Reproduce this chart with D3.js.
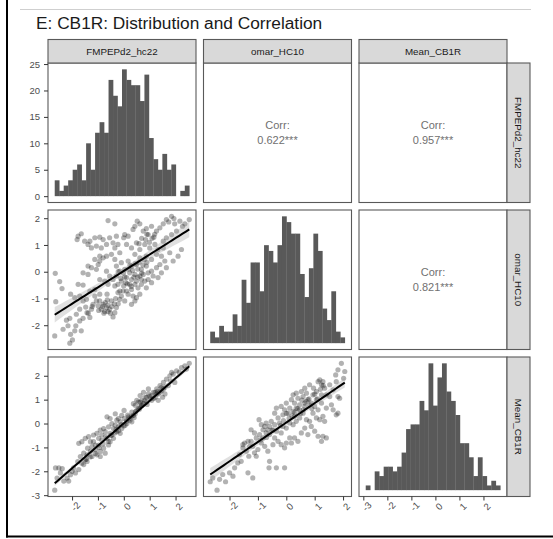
<!DOCTYPE html>
<html>
<head>
<meta charset="utf-8">
<script src="https://cdn.jsdelivr.net/npm/d3@7"></script>
<style>
body { margin: 0; background: #fff; }
svg text { font-family: "Liberation Sans", Arial, sans-serif; }
</style>
</head>
<body>
<svg id="chart" width="553" height="539"></svg>
<script>
var chartTitle = 'E: CB1R: Distribution and Correlation';
var varNames = ['FMPEPd2_hc22', 'omar_HC10', 'Mean_CB1R'];

// histogram counts (30 bins) and the extent covered by the bars
var histF = [3,1,2,3,5,6,3,10,5,12,14,12,22,19,17,24,22,21,21,18,23,11,7,5,8,5,6,0,1,2];
var histO = [2,1,3,2,2,5,3,11,7,14,14,9,17,16,14,17,22,21,19,19,12,8,13,19,16,6,4,9,2,1];
var histM = [1,0,4,3,5,5,4,5,8,13,14,14,19,17,27,18,24,27,21,19,16,10,10,7,3,7,3,1,2,1];
var histRange = [[-2.68, 2.52], [-2.69, 2.06], [-2.90, 2.70]];

// correlations, upper panels [row, col, label]
var corrCells = [[0, 1, '0.622***'], [0, 2, '0.957***'], [1, 2, '0.821***']];

// fitted lm lines [intercept, slope]
var fitFO = [0.02, 0.617];
var fitFM = [0.01, 0.942];
var fitOM = [0.02, 0.806];

var countTicks = [0, 5, 10, 15, 20, 25];
var zTicks = [-2, -1, 0, 1, 2];
var meanTicks = [-3, -2, -1, 0, 1, 2];

// FMPEPd2_hc22 (x) vs omar_HC10 (y)
var ptsFO = [
[-2.64,-2.40],[-2.62,-0.06],[-2.45,-0.37],[-2.36,-0.63],[-2.60,-1.12],[-1.74,-0.47],[-1.55,-0.50],[-2.03,-0.84],
[-2.32,-2.15],[-2.19,-1.81],[-2.13,-2.02],[-2.06,-1.74],[-2.03,-2.34],[-2.06,-2.67],[-1.96,-2.55],[-1.87,-2.21],
[-1.83,-2.02],[-1.68,-1.84],[-1.62,-2.21],[-1.81,-1.59],[-1.68,-1.40],[-1.55,-1.74],[-1.40,-1.53],[-1.45,-1.32],
[-1.29,-1.71],[-1.23,-1.40],[-1.17,-1.22],[-1.10,-0.91],[-1.04,-1.09],[-0.97,-1.28],[-0.91,-1.09],[-0.85,-1.40],
[-0.78,-1.22],[-0.72,-1.49],[-0.65,-1.34],[-0.59,-1.49],[-0.53,-1.40],[-0.40,-1.69],[-0.33,-1.53],[-0.27,-1.34],
[-0.46,-1.09],[-0.63,-0.84],[-0.91,-0.84],[-1.10,-0.66],[-1.29,-0.72],[-1.42,-1.03],[-1.55,-1.09],[-1.68,-0.91],
[-1.87,-0.97],[-1.55,-0.04],[-1.36,0.21],[-1.23,0.15],[-1.36,-0.10],[-1.04,0.09],[-0.91,0.40],[-0.97,0.27],
[-0.78,0.52],[-0.65,0.02],[-0.53,-0.16],[-0.72,-0.35],[-0.91,-0.29],[-0.59,-0.47],[-0.40,-0.29],[-0.27,-0.16],
[-0.33,-0.53],[-0.21,-0.47],[-0.14,-0.72],[-0.08,-0.35],[0.01,-0.53],[0.12,-0.72],[0.09,-0.41],[0.18,-0.84],
[0.31,-0.66],[0.37,-0.91],[0.50,-0.97],[0.63,-0.84],[0.44,-0.47],[0.56,-0.60],[0.69,-0.47],[0.82,-0.35],
[0.95,-0.29],[1.08,-0.41],[0.88,-0.60],[-1.74,1.33],[-1.62,1.42],[-1.78,1.20],[-1.49,1.14],[-1.36,1.02],
[-1.23,0.89],[-1.29,1.14],[-1.10,1.27],[-1.04,0.96],[-0.91,1.29],[-0.78,1.20],[-0.65,1.02],[-0.85,0.89],
[-0.53,1.27],[-0.40,1.08],[-0.33,0.89],[-0.21,1.02],[-0.27,1.33],[-0.14,0.71],[-0.46,0.65],[-0.65,0.58],
[-0.33,0.46],[-0.91,0.58],[-1.10,0.46],[-0.59,1.91],[-0.33,1.79],[0.05,1.39],[0.01,1.27],[0.18,1.33],
[0.37,1.58],[0.44,1.70],[0.53,1.89],[0.63,1.79],[0.76,1.52],[0.88,1.61],[0.95,1.39],[1.08,1.70],
[1.17,1.29],[1.27,1.52],[1.40,1.64],[1.53,1.79],[1.65,1.95],[1.74,1.86],[1.85,2.07],[1.94,1.99],
[1.97,1.79],[2.17,1.89],[2.27,1.70],[2.36,1.79],[2.53,1.95],[2.04,1.52],[1.85,1.39],[1.65,1.27],
[1.53,1.14],[0.12,1.02],[0.31,0.89],[0.50,1.08],[0.63,0.83],[0.82,1.02],[1.01,0.89],[1.21,1.02],
[1.33,0.83],[1.53,0.89],[0.44,0.65],[0.63,0.52],[0.88,0.58],[1.08,0.46],[1.27,0.65],[1.46,0.58],
[1.59,0.40],[1.78,0.71],[0.18,0.40],[0.31,0.21],[0.50,0.27],[0.69,0.09],[0.88,0.21],[1.08,0.02],
[1.27,0.15],[-0.08,0.34],[0.05,0.09],[0.24,-0.04],[0.44,-0.10],[0.63,-0.16],[-0.14,0.02],[0.12,-0.22],
[-0.27,0.21],[1.14,-0.16],[1.33,-0.22],[1.46,-0.04],[1.40,0.27],[1.65,0.15],[1.91,0.40],[2.10,0.58],
[2.23,0.83],[0.76,-0.10],[0.95,-0.04],[0.31,-0.29],[0.50,-0.35],[0.69,-0.29],[-0.21,-0.78],[-0.08,-0.91],
[-0.01,-0.72],[0.24,-0.47],[-0.14,-1.03],[0.05,-1.09],[0.31,-1.22],[0.44,-1.09],
[-0.80,-1.30],[-0.70,-1.15],[-0.60,-1.25],[-0.50,-1.55],[-0.45,-1.30],[-0.35,-1.20],[-0.75,-1.55],[-0.62,-1.05],
[-0.30,-1.00],[-0.20,-1.20],[0.20,0.10],[0.35,0.05],[0.45,0.30],[0.55,0.10],[0.60,0.35],[0.75,0.25],
[0.80,0.45],[0.70,-0.05],[0.40,-0.20],[0.25,0.25],[0.55,-0.20],[0.90,0.35],[0.15,-0.45],[0.30,-0.55],
[0.70,1.25],[0.85,1.20],[1.00,1.10],[1.10,1.25],[0.90,1.40],[1.20,1.40],[0.60,1.05],[-0.10,-0.25],
[0.05,-0.20],[-0.20,0.00],[0.00,-0.05],[-1.20,-1.30],[-1.35,-1.55],[-0.95,-1.45]
];

// FMPEPd2_hc22 (x) vs Mean_CB1R (y)
var ptsFM = [
[-2.67,-2.79],[-2.64,-1.86],[-2.51,-1.86],[-2.38,-1.89],[-2.58,-2.28],[-2.45,-2.07],[-2.32,-2.41],[-2.19,-2.28],
[-2.13,-2.41],[-2.06,-2.14],[-2.00,-2.00],[-1.94,-1.86],[-1.87,-2.07],[-1.74,-1.93],[-1.78,-1.59],[-1.62,-1.66],
[-1.68,-1.38],[-1.49,-1.52],[-1.55,-1.24],[-1.40,-1.03],[-1.74,-0.83],[-1.62,-0.76],[-1.49,-0.62],[-1.36,-0.55],
[-1.29,-0.76],[-1.17,-0.48],[-1.23,-0.97],[-1.10,-1.10],[-1.04,-1.31],[-0.97,-0.90],[-0.91,-1.17],[-0.78,-1.03],
[-0.85,-0.69],[-1.04,-0.41],[-0.91,-0.28],[-0.72,-0.34],[-0.65,-0.62],[-0.59,-0.90],[-0.53,-0.76],[-0.46,-0.48],
[-0.40,-0.21],[-0.65,0.28],[-0.53,0.21],[-0.33,0.41],[-0.27,0.14],[-0.21,-0.14],[-0.14,0.07],[-0.08,-0.21],
[0.01,0.21],[0.01,0.55],[0.12,0.00],[0.18,0.28],[0.24,0.14],[0.31,0.48],[0.37,0.34],[0.44,0.76],
[0.50,0.55],[0.56,0.90],[0.63,0.69],[0.69,0.97],[0.76,0.83],[0.82,1.10],[0.88,0.90],[0.95,1.24],
[1.01,1.03],[1.08,1.17],[1.14,1.31],[1.21,1.10],[1.27,1.45],[1.33,1.24],[1.40,1.59],[1.46,1.38],
[1.53,1.72],[1.59,1.52],[1.65,1.86],[1.78,2.00],[1.85,2.14],[1.91,2.07],[2.04,2.21],[2.23,2.34],
[2.36,2.41],[2.53,2.52],[2.42,2.28],[2.14,2.14],[-0.21,0.21],[-0.08,0.34],[0.05,-0.07],[-0.33,-0.07],
[-0.46,0.00],[-0.59,-0.14],[-0.78,-0.21],[0.31,0.07],[0.44,0.41],[0.56,0.62],[0.63,0.90],[0.37,0.83],
[0.50,0.97],[0.69,0.76],[0.88,1.10],[1.08,0.97],[1.21,1.31],[0.95,1.45],[0.76,1.31],[0.63,1.17],
[1.27,1.24],[1.40,1.31],[1.53,1.45],[1.72,1.59],[1.81,1.79],[1.97,1.72],[1.50,1.10],[1.59,1.24],
[1.33,0.97],[-0.27,-0.34],[-0.14,-0.41],[-0.40,-0.62],[-0.53,-0.41],[-0.85,-0.48],[-1.17,-0.76],[-1.10,-0.90],
[-0.97,-0.62],[-1.29,-1.17],[-0.91,-1.38],[-0.72,-1.24],[-1.42,-1.31],[-1.55,-1.72],[-1.42,-1.59],[-1.23,-1.38],
[-0.50,-0.50],[-0.30,-0.25],[-0.10,-0.05],[0.10,0.10],[0.20,0.20],[0.30,0.30],[0.45,0.50],[0.60,0.60],
[0.70,0.75],[0.80,0.95],[0.90,0.80],[1.00,1.15],[1.15,1.05],[-0.60,-0.75],[-0.70,-0.55],[-0.80,-0.85],
[-0.95,-1.00],[0.00,-0.10],[0.15,0.35],[0.40,0.25],[-0.20,-0.30],[-0.35,-0.40],[1.30,1.35],[1.45,1.50],
[-1.10,-1.25],[-1.30,-1.40],[-1.45,-1.50]
];

// omar_HC10 (x) vs Mean_CB1R (y)
var ptsOM = [
[-2.68,-2.44],[-2.44,-2.79],[-2.59,-2.28],[-2.35,-2.34],[-2.24,-2.14],[-2.14,-2.44],[-2.00,-2.07],[-1.88,-2.21],
[-1.82,-1.86],[-1.71,-1.66],[-1.59,-1.59],[-1.35,-2.07],[-1.18,-2.28],[-1.65,-1.31],[-1.53,-1.03],[-1.47,-0.83],
[-1.41,-1.17],[-1.32,-1.38],[-1.24,-0.76],[-1.18,-0.97],[-1.12,-1.24],[-1.06,-1.38],[-1.00,-1.10],[-1.06,-0.62],
[-0.94,-0.48],[-0.96,0.14],[-1.24,-0.28],[-1.12,-0.41],[-0.88,-0.07],[-0.82,-0.28],[-0.76,-0.14],[-0.71,0.00],
[-0.65,-0.28],[-0.59,-0.48],[-0.65,-1.17],[-0.59,-1.59],[-0.61,-1.86],[-0.35,-1.86],[-0.06,-1.86],[-0.47,-0.90],
[-0.41,-0.62],[-0.29,-0.76],[-0.18,-0.90],[-0.06,-1.03],[0.00,-0.83],[0.12,-0.62],[0.18,-0.83],[0.29,-0.62],
[0.41,-0.76],[0.53,-0.41],[0.65,-0.21],[0.76,-0.48],[0.88,-0.14],[1.00,-0.34],[1.12,-0.55],[1.24,-0.76],
[1.29,-0.55],[1.41,-0.62],[-0.53,0.07],[-0.41,-0.07],[-0.29,0.21],[-0.24,0.00],[-0.12,0.34],[-0.06,0.55],
[0.06,0.41],[0.12,0.62],[0.24,0.48],[0.29,0.83],[0.35,0.62],[0.41,1.03],[0.47,0.76],[0.59,1.10],
[0.65,0.83],[0.71,1.24],[0.76,0.97],[0.82,0.76],[0.94,1.17],[1.06,1.31],[1.12,1.72],[1.18,1.79],
[1.24,1.59],[1.29,1.72],[1.35,1.45],[1.41,1.17],[1.53,1.59],[1.65,1.38],[1.76,1.72],[1.74,2.00],
[1.82,2.21],[1.94,2.48],[2.06,2.14],[2.02,1.86],[1.88,1.03],[1.82,1.10],[1.76,0.34],[1.82,0.41],
[1.29,0.28],[1.35,0.07],[1.18,0.14],[1.06,0.21],[0.94,0.41],[0.82,0.07],[0.71,0.14],[0.59,0.41],
[0.47,0.21],[0.35,0.07],[0.24,-0.07],[0.12,0.00],[0.00,-0.21],[-0.12,-0.14],[-0.18,-0.41],[-0.35,-0.34],
[-0.47,-0.28],[-0.59,-0.14],[-0.71,-0.41],[-0.82,-0.62],[-0.88,-0.83],[-0.76,-0.97],[-1.35,-0.76],[-1.29,-0.97],
[-1.53,-0.90],[-0.41,0.41],[-0.35,0.62],[-0.18,0.69],[0.00,0.83],[0.18,0.97],[0.24,1.17],[0.35,1.24],
[0.53,1.31],[0.65,1.45],[0.82,1.59],[0.96,1.45],[1.06,0.97],[1.24,0.83],[1.00,0.69],[1.12,0.55],
[0.47,0.55],[0.29,0.28],[0.65,0.69],[0.88,0.83],[1.24,1.17],[1.53,1.10],[1.59,0.76],[1.65,0.55],
[1.41,0.62],[0.50,0.40],[0.60,0.55],[0.30,0.45],[0.20,0.30],[0.10,0.20],[-0.10,0.10],[-0.20,-0.10],
[0.40,0.60],[0.70,0.90],[0.80,1.00],[1.20,1.40],[1.30,1.55],[1.00,1.20],[-0.50,-0.30],[-0.70,-0.60],
[-0.90,-0.70],[0.55,0.95],[0.90,0.60],[1.10,1.00],[0.00,0.40]
];

var colX = [48, 203.5, 359], PW = 148;
var rowY = [63, 210, 357], PH = 139.5;
var stripH = 23.5, stripW = 23;

var svg = d3.select('#chart');

// frame lines of the original figure
svg.append('line').attr('x1', 20).attr('x2', 531).attr('y1', 9.5).attr('y2', 9.5)
	.attr('stroke', '#cfcfcf').attr('stroke-width', 1);
svg.append('rect').attr('x', 6).attr('y', 0).attr('width', 2).attr('height', 537.5).attr('fill', '#000');
svg.append('rect').attr('x', 6).attr('y', 535.5).attr('width', 547).attr('height', 2).attr('fill', '#000');

svg.append('text').attr('x', 36).attr('y', 28.5).attr('font-size', '17.3px').attr('fill', '#1a1a1a')
	.text(chartTitle);

function expand(ext) {
	var pad = (ext[1] - ext[0]) * 0.05;
	return [ext[0] - pad, ext[1] + pad];
}

function xScaleFor(dom, c) {
	return d3.scaleLinear().domain(expand(dom)).range([colX[c], colX[c] + PW]);
}
function yScaleFor(dom, r) {
	return d3.scaleLinear().domain(expand(dom)).range([rowY[r] + PH, rowY[r]]);
}

var hists = [histF, histO, histM];
var scatters = { '1,0': ptsFO, '2,0': ptsFM, '2,1': ptsOM };
var fits = { '1,0': fitFO, '2,0': fitFM, '2,1': fitOM };
var leftScales = [], bottomScales = [];

function drawHist(i) {
	var counts = hists[i];
	var lo = histRange[i][0], hi = histRange[i][1];
	var bw = (hi - lo) / counts.length;
	var x = xScaleFor([lo, hi], i);
	var y = yScaleFor([0, d3.max(counts)], i);
	var bins = counts.map(function(c, k) {
		return { x0: lo + k * bw, x1: lo + (k + 1) * bw, n: c };
	});
	svg.append('g').selectAll('rect').data(bins).enter().append('rect')
		.attr('x', function(d) { return x(d.x0); })
		.attr('width', function(d) { return x(d.x1) - x(d.x0) + 0.3; })
		.attr('y', function(d) { return y(d.n); })
		.attr('height', function(d) { return y(0) - y(d.n); })
		.attr('fill', '#595959');
	if (i == 0) leftScales[0] = y;
	if (i == 2) bottomScales[2] = x;
}

function drawScatter(r, c) {
	var key = r + ',' + c;
	var pts = scatters[key];
	var x = xScaleFor(d3.extent(pts, function(d) { return d[0]; }), c);
	var y = yScaleFor(d3.extent(pts, function(d) { return d[1]; }), r);

	svg.append('g').selectAll('circle').data(pts).enter().append('circle')
		.attr('cx', function(d) { return x(d[0]); })
		.attr('cy', function(d) { return y(d[1]); })
		.attr('r', 2.6)
		.attr('fill', '#000')
		.attr('fill-opacity', 0.3);

	// fitted line with a 95% band from the residuals around it
	var a = fits[key][0], b = fits[key][1];
	var n = pts.length;
	var mx = d3.mean(pts, function(d) { return d[0]; });
	var sxx = d3.sum(pts, function(d) { return (d[0] - mx) * (d[0] - mx); });
	var sse = d3.sum(pts, function(d) { var e = d[1] - a - b * d[0]; return e * e; });
	var s = Math.sqrt(sse / (n - 2));
	var ext = d3.extent(pts, function(d) { return d[0]; });
	var grid = d3.range(0, 41).map(function(k) {
		var xv = ext[0] + (ext[1] - ext[0]) * k / 40;
		var se = 1.97 * s * Math.sqrt(1 / n + (xv - mx) * (xv - mx) / sxx);
		var yv = a + b * xv;
		return { x: xv, y: yv, lo: yv - se, hi: yv + se };
	});
	svg.append('path').datum(grid)
		.attr('d', d3.area()
			.x(function(d) { return x(d.x); })
			.y0(function(d) { return y(d.lo); })
			.y1(function(d) { return y(d.hi); }))
		.attr('fill', '#999').attr('fill-opacity', 0.3);
	svg.append('path').datum(grid)
		.attr('d', d3.line()
			.x(function(d) { return x(d.x); })
			.y(function(d) { return y(d.y); }))
		.attr('fill', 'none').attr('stroke', '#000').attr('stroke-width', 2);

	if (c == 0) leftScales[r] = y;
	if (r == 2) bottomScales[c] = x;
}

for (var r = 0; r < 3; r++) {
	for (var c = 0; c < 3; c++) {
		if (r == c) drawHist(r);
		else if (r > c) drawScatter(r, c);
	}
}

corrCells.forEach(function(d) {
	var cx = colX[d[1]] + PW / 2, cy = rowY[d[0]] + PH / 2;
	var t = svg.append('text').attr('x', cx).attr('text-anchor', 'middle')
		.attr('font-size', '11px').attr('fill', '#707070');
	t.append('tspan').attr('x', cx).attr('y', cy - 3.5).text('Corr:');
	t.append('tspan').attr('x', cx).attr('y', cy + 11).text(d[2]);
});

// panel borders
for (var r = 0; r < 3; r++) {
	for (var c = 0; c < 3; c++) {
		svg.append('rect').attr('x', colX[c]).attr('y', rowY[r]).attr('width', PW).attr('height', PH)
			.attr('fill', 'none').attr('stroke', '#595959').attr('stroke-width', 1.1);
	}
}

// top strips
varNames.forEach(function(name, c) {
	svg.append('rect').attr('x', colX[c]).attr('y', rowY[0] - stripH).attr('width', PW).attr('height', stripH)
		.attr('fill', '#d9d9d9').attr('stroke', '#595959').attr('stroke-width', 1.1);
	svg.append('text').attr('x', colX[c] + PW / 2).attr('y', rowY[0] - stripH / 2)
		.attr('dy', '0.35em').attr('text-anchor', 'middle').attr('font-size', '9.8px').attr('fill', '#1a1a1a')
		.text(name);
});

// right strips
varNames.forEach(function(name, r) {
	var sx = colX[2] + PW;
	svg.append('rect').attr('x', sx).attr('y', rowY[r]).attr('width', stripW).attr('height', PH)
		.attr('fill', '#d9d9d9').attr('stroke', '#595959').attr('stroke-width', 1.1);
	svg.append('text')
		.attr('transform', 'translate(' + (sx + stripW / 2) + ',' + (rowY[r] + PH / 2) + ') rotate(90)')
		.attr('dy', '0.35em').attr('text-anchor', 'middle').attr('font-size', '9.8px').attr('fill', '#1a1a1a')
		.text(name);
});

// axes
var leftTicks = [countTicks, zTicks, meanTicks];
var bottomTicks = [zTicks, zTicks, meanTicks];

function styleAxis(g) {
	g.select('.domain').remove();
	g.selectAll('line').attr('stroke', '#333').attr('stroke-width', 1);
	g.selectAll('text').attr('fill', '#4d4d4d').attr('font-size', '9.5px')
		.attr('font-family', '"Liberation Sans", Arial, sans-serif');
}

leftScales.forEach(function(y, r) {
	var g = svg.append('g').attr('transform', 'translate(' + colX[0] + ',0)')
		.call(d3.axisLeft(y).tickValues(leftTicks[r]).tickSize(4).tickPadding(4).tickFormat(String));
	styleAxis(g);
});

bottomScales.forEach(function(x, c) {
	var g = svg.append('g').attr('transform', 'translate(0,' + (rowY[2] + PH) + ')')
		.call(d3.axisBottom(x).tickValues(bottomTicks[c]).tickSize(4).tickFormat(String));
	styleAxis(g);
	g.selectAll('text')
		.attr('y', 0).attr('dy', '0.35em')
		.attr('text-anchor', 'middle')
		.attr('transform', 'translate(3,10) rotate(-45)');
});
</script>
</body>
</html>
